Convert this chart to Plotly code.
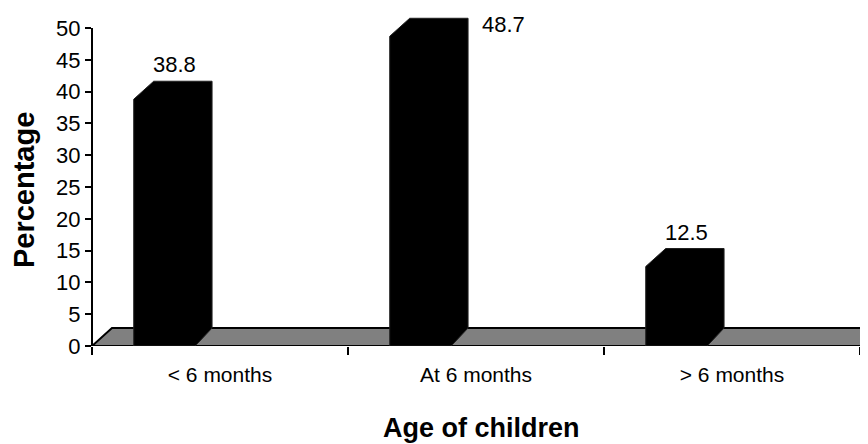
import plotly.graph_objects as go

# ---- data ----
categories = ["< 6 months", "At 6 months", "> 6 months"]
values = [38.8, 48.7, 12.5]
y_tick_values = [0, 5, 10, 15, 20, 25, 30, 35, 40, 45, 50]
y_title = "Percentage"
x_title = "Age of children"

# ---- 3D-look styling constants (in axis units) ----
bar_width = 0.24
bar_offset = -0.217
depth_x_left = 0.078
depth_x_right = 0.066
depth_y = 2.83
FONT = "Liberation Sans, Arial, sans-serif"

# page body has an 8px margin; figure is sized so that it fills the 868x444 window
PAGE_PAD = 8
W, H = 868 - PAGE_PAD, 444 - PAGE_PAD

fig = go.Figure()

# floor (gray parallelogram)
n = len(categories)
fx0, fx1 = -0.5, n - 0.5
fig.add_trace(go.Scatter(
    x=[fx0, fx1, fx1 + depth_x_left, fx0 + depth_x_left, fx0],
    y=[0, 0, depth_y, depth_y, 0],
    mode="lines", fill="toself", fillcolor="#808080",
    line=dict(color="black", width=2), hoverinfo="skip", showlegend=False))

# bars (front + top + side drawn as one black silhouette)
for i, v in enumerate(values):
    xl = i + bar_offset - bar_width / 2
    xr = i + bar_offset + bar_width / 2
    fig.add_trace(go.Scatter(
        x=[xl, xl, xl + depth_x_left, xr + depth_x_right, xr + depth_x_right, xr, xl],
        y=[0, v, v + depth_y, v + depth_y, depth_y, 0, 0],
        mode="lines", fill="toself", fillcolor="black",
        line=dict(color="#202020", width=1), hoverinfo="skip", showlegend=False))

# data labels
for i, v in enumerate(values):
    xr = i + bar_offset + bar_width / 2
    if v + depth_y > 50:
        fig.add_annotation(x=xr + depth_x_right, y=v + depth_y, xref="x", yref="y",
                           text=f"{v}", showarrow=False, xanchor="left", yanchor="top",
                           xshift=12, yshift=8, font=dict(family=FONT, size=22, color="black"))
    else:
        fig.add_annotation(x=i + bar_offset + depth_x_left / 2, y=v + depth_y, xref="x", yref="y",
                           text=f"{v}", showarrow=False, xanchor="center", yanchor="bottom",
                           yshift=2, font=dict(family=FONT, size=22, color="black"))

# y axis line from 0 to 50
fig.add_shape(type="line", xref="paper", yref="y", x0=0, x1=0, y0=0, y1=max(y_tick_values),
              line=dict(color="black", width=2))

# axis titles
fig.add_annotation(text=f"<b>{y_title}</b>", xref="paper", yref="paper", x=0, y=0.464,
                   xshift=-68, xanchor="center", yanchor="middle", textangle=-90, showarrow=False,
                   font=dict(family=FONT, size=29, color="black"))
fig.add_annotation(text=f"<b>{x_title}</b>", xref="paper", yref="paper", x=0.5, y=-0.244,
                   xshift=1, xanchor="center", yanchor="middle", showarrow=False,
                   font=dict(family=FONT, size=27, color="black"))

fig.update_layout(
    width=W, height=H,
    margin=dict(l=92 - PAGE_PAD, r=0, t=10 - PAGE_PAD, b=98),
    paper_bgcolor="white", plot_bgcolor="white",
    showlegend=False,
    xaxis=dict(
        range=[-0.5, -0.5 + 776 / 256],
        tickmode="array", tickvals=list(range(n)), ticktext=categories,
        ticks="", showgrid=False, zeroline=False, showline=False,
        ticklabelstandoff=14,
        tickfont=dict(family=FONT, size=21, color="black"),
        minor=dict(tickmode="array", tickvals=[k - 0.5 for k in range(n + 1)],
                   ticks="outside", ticklen=8, tickwidth=2, tickcolor="black", showgrid=False),
    ),
    yaxis=dict(
        range=[0, 52.83],
        tickmode="array", tickvals=y_tick_values,
        ticks="outside", ticklen=6, tickwidth=2, tickcolor="black",
        showgrid=False, zeroline=False, showline=False,
        tickfont=dict(family=FONT, size=22, color="black"),
    ),
)

fig.write_html("out.html")
